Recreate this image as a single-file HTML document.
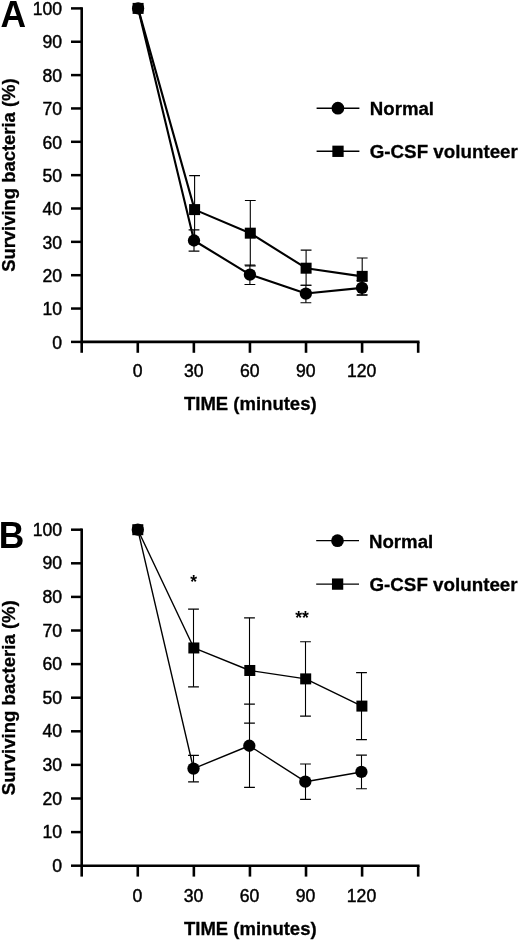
<!DOCTYPE html>
<html><head><meta charset="utf-8"><title>Figure</title>
<style>
html,body{margin:0;padding:0;background:#fff;}
svg{display:block;will-change:transform}
text{font-family:"Liberation Sans",Arial,sans-serif;fill:#000}
.tk{font-size:17.6px;stroke:#000;stroke-width:0.45px}
.lb{font-size:18.65px;font-weight:bold;stroke:#000;stroke-width:0.3px}
.yl{font-size:19.2px;font-weight:bold;stroke:#000;stroke-width:0.3px}
.pl{font-size:35.4px;font-weight:bold}
.st{font-size:17.5px;font-weight:bold}
</style></head><body>
<svg width="520" height="940" viewBox="0 0 520 940">
<rect width="520" height="940" fill="#fff"/>
<g>
<path d="M81.7 7.15V341.9H419.5" fill="none" stroke="#000" stroke-width="2.6"/>
<line x1="71" x2="81.7" y1="341.90" y2="341.90" stroke="#000" stroke-width="2.5"/>
<text x="62.1" y="348.60" text-anchor="end" class="tk">0</text>
<line x1="71" x2="81.7" y1="308.55" y2="308.55" stroke="#000" stroke-width="2.5"/>
<text x="62.1" y="315.25" text-anchor="end" class="tk">10</text>
<line x1="71" x2="81.7" y1="275.20" y2="275.20" stroke="#000" stroke-width="2.5"/>
<text x="62.1" y="281.90" text-anchor="end" class="tk">20</text>
<line x1="71" x2="81.7" y1="241.85" y2="241.85" stroke="#000" stroke-width="2.5"/>
<text x="62.1" y="248.55" text-anchor="end" class="tk">30</text>
<line x1="71" x2="81.7" y1="208.50" y2="208.50" stroke="#000" stroke-width="2.5"/>
<text x="62.1" y="215.20" text-anchor="end" class="tk">40</text>
<line x1="71" x2="81.7" y1="175.15" y2="175.15" stroke="#000" stroke-width="2.5"/>
<text x="62.1" y="181.85" text-anchor="end" class="tk">50</text>
<line x1="71" x2="81.7" y1="141.80" y2="141.80" stroke="#000" stroke-width="2.5"/>
<text x="62.1" y="148.50" text-anchor="end" class="tk">60</text>
<line x1="71" x2="81.7" y1="108.45" y2="108.45" stroke="#000" stroke-width="2.5"/>
<text x="62.1" y="115.15" text-anchor="end" class="tk">70</text>
<line x1="71" x2="81.7" y1="75.10" y2="75.10" stroke="#000" stroke-width="2.5"/>
<text x="62.1" y="81.80" text-anchor="end" class="tk">80</text>
<line x1="71" x2="81.7" y1="41.75" y2="41.75" stroke="#000" stroke-width="2.5"/>
<text x="62.1" y="48.45" text-anchor="end" class="tk">90</text>
<line x1="71" x2="81.7" y1="8.40" y2="8.40" stroke="#000" stroke-width="2.5"/>
<text x="62.1" y="15.10" text-anchor="end" class="tk">100</text>
<line x1="81.70" x2="81.70" y1="341.9" y2="352.80" stroke="#000" stroke-width="2.6"/>
<line x1="137.78" x2="137.78" y1="341.9" y2="352.80" stroke="#000" stroke-width="2.6"/>
<line x1="193.86" x2="193.86" y1="341.9" y2="352.80" stroke="#000" stroke-width="2.6"/>
<line x1="249.94" x2="249.94" y1="341.9" y2="352.80" stroke="#000" stroke-width="2.6"/>
<line x1="306.02" x2="306.02" y1="341.9" y2="352.80" stroke="#000" stroke-width="2.6"/>
<line x1="362.10" x2="362.10" y1="341.9" y2="352.80" stroke="#000" stroke-width="2.6"/>
<line x1="418.18" x2="418.18" y1="341.9" y2="352.80" stroke="#000" stroke-width="2.6"/>
<text x="137.60" y="377.10" text-anchor="middle" class="tk">0</text>
<text x="193.80" y="377.10" text-anchor="middle" class="tk">30</text>
<text x="249.80" y="377.10" text-anchor="middle" class="tk">60</text>
<text x="305.80" y="377.10" text-anchor="middle" class="tk">90</text>
<text x="361.70" y="377.10" text-anchor="middle" class="tk">120</text>
<text x="250.3" y="410.25" text-anchor="middle" class="lb" style="font-size:18.5px">TIME (minutes)</text>
<text transform="translate(15.4 175.15) rotate(-90) scale(0.96 1)" text-anchor="middle" class="yl">Surviving bacteria (%)</text>
<text transform="translate(0.5 26.75) scale(1 1.05)" class="pl">A</text>
<path d="M194.60 175.58V243.62" fill="none" stroke="#000" stroke-width="1.1"/>
<path d="M189.20 175.58h10.8M189.20 243.62h10.8" fill="none" stroke="#000" stroke-width="1.15"/>
<path d="M250.30 200.50V265.86" fill="none" stroke="#000" stroke-width="1.1"/>
<path d="M244.90 200.50h10.8M244.90 265.86h10.8" fill="none" stroke="#000" stroke-width="1.15"/>
<path d="M306.10 250.19V285.20" fill="none" stroke="#000" stroke-width="1.1"/>
<path d="M300.70 250.19h10.8M300.70 285.20h10.8" fill="none" stroke="#000" stroke-width="1.15"/>
<path d="M362.20 258.02V294.71" fill="none" stroke="#000" stroke-width="1.1"/>
<path d="M356.80 258.02h10.8M356.80 294.71h10.8" fill="none" stroke="#000" stroke-width="1.15"/>
<path d="M194.00 229.91V251.12" fill="none" stroke="#000" stroke-width="1.1"/>
<path d="M188.60 229.91h10.8M188.60 251.12h10.8" fill="none" stroke="#000" stroke-width="1.15"/>
<path d="M249.90 265.03V284.54" fill="none" stroke="#000" stroke-width="1.1"/>
<path d="M244.50 265.03h10.8M244.50 284.54h10.8" fill="none" stroke="#000" stroke-width="1.15"/>
<path d="M305.90 285.20V302.71" fill="none" stroke="#000" stroke-width="1.1"/>
<path d="M300.50 285.20h10.8M300.50 302.71h10.8" fill="none" stroke="#000" stroke-width="1.15"/>
<path d="M362.00 280.54V295.21" fill="none" stroke="#000" stroke-width="1.1"/>
<path d="M356.60 280.54h10.8M356.60 295.21h10.8" fill="none" stroke="#000" stroke-width="1.15"/>
<polyline points="138.1,8.40 194.6,209.60 250.3,233.18 306.1,268.20 362.2,276.37" fill="none" stroke="#000" stroke-width="2.1" stroke-linejoin="round"/>
<polyline points="138.1,8.40 194.0,240.52 249.9,274.53 305.9,293.54 362.0,287.87" fill="none" stroke="#000" stroke-width="2.1" stroke-linejoin="round"/>
<rect x="132.60" y="2.90" width="11" height="11" fill="#000"/>
<rect x="189.10" y="204.10" width="11" height="11" fill="#000"/>
<rect x="244.80" y="227.68" width="11" height="11" fill="#000"/>
<rect x="300.60" y="262.70" width="11" height="11" fill="#000"/>
<rect x="356.70" y="270.87" width="11" height="11" fill="#000"/>
<circle cx="138.1" cy="8.40" r="6.15" fill="#000"/>
<circle cx="194.0" cy="240.52" r="6.15" fill="#000"/>
<circle cx="249.9" cy="274.53" r="6.15" fill="#000"/>
<circle cx="305.9" cy="293.54" r="6.15" fill="#000"/>
<circle cx="362.0" cy="287.87" r="6.15" fill="#000"/>
<line x1="316.60" x2="359.40" y1="108.2" y2="108.2" stroke="#000" stroke-width="1.5"/>
<circle cx="337.90" cy="108.2" r="6.35" fill="#000"/>
<text x="369.80" y="115.10" class="lb">Normal</text>
<line x1="316.60" x2="359.40" y1="151.3" y2="151.3" stroke="#000" stroke-width="1.5"/>
<rect x="332.35" y="145.65" width="11.3" height="11.3" fill="#000"/>
<text x="369.70" y="158.00" class="lb" style="font-size:18.8px">G-CSF volunteer</text>
</g>
<g>
<path d="M81.7 528.45V865.7H419.5" fill="none" stroke="#000" stroke-width="2.6"/>
<line x1="71" x2="81.7" y1="865.70" y2="865.70" stroke="#000" stroke-width="2.5"/>
<text x="62.1" y="871.80" text-anchor="end" class="tk">0</text>
<line x1="71" x2="81.7" y1="832.10" y2="832.10" stroke="#000" stroke-width="2.5"/>
<text x="62.1" y="838.20" text-anchor="end" class="tk">10</text>
<line x1="71" x2="81.7" y1="798.50" y2="798.50" stroke="#000" stroke-width="2.5"/>
<text x="62.1" y="804.60" text-anchor="end" class="tk">20</text>
<line x1="71" x2="81.7" y1="764.90" y2="764.90" stroke="#000" stroke-width="2.5"/>
<text x="62.1" y="771.00" text-anchor="end" class="tk">30</text>
<line x1="71" x2="81.7" y1="731.30" y2="731.30" stroke="#000" stroke-width="2.5"/>
<text x="62.1" y="737.40" text-anchor="end" class="tk">40</text>
<line x1="71" x2="81.7" y1="697.70" y2="697.70" stroke="#000" stroke-width="2.5"/>
<text x="62.1" y="703.80" text-anchor="end" class="tk">50</text>
<line x1="71" x2="81.7" y1="664.10" y2="664.10" stroke="#000" stroke-width="2.5"/>
<text x="62.1" y="670.20" text-anchor="end" class="tk">60</text>
<line x1="71" x2="81.7" y1="630.50" y2="630.50" stroke="#000" stroke-width="2.5"/>
<text x="62.1" y="636.60" text-anchor="end" class="tk">70</text>
<line x1="71" x2="81.7" y1="596.90" y2="596.90" stroke="#000" stroke-width="2.5"/>
<text x="62.1" y="603.00" text-anchor="end" class="tk">80</text>
<line x1="71" x2="81.7" y1="563.30" y2="563.30" stroke="#000" stroke-width="2.5"/>
<text x="62.1" y="569.40" text-anchor="end" class="tk">90</text>
<line x1="71" x2="81.7" y1="529.70" y2="529.70" stroke="#000" stroke-width="2.5"/>
<text x="62.1" y="535.80" text-anchor="end" class="tk">100</text>
<line x1="81.70" x2="81.70" y1="865.7" y2="876.60" stroke="#000" stroke-width="2.6"/>
<line x1="137.78" x2="137.78" y1="865.7" y2="876.60" stroke="#000" stroke-width="2.6"/>
<line x1="193.86" x2="193.86" y1="865.7" y2="876.60" stroke="#000" stroke-width="2.6"/>
<line x1="249.94" x2="249.94" y1="865.7" y2="876.60" stroke="#000" stroke-width="2.6"/>
<line x1="306.02" x2="306.02" y1="865.7" y2="876.60" stroke="#000" stroke-width="2.6"/>
<line x1="362.10" x2="362.10" y1="865.7" y2="876.60" stroke="#000" stroke-width="2.6"/>
<line x1="418.18" x2="418.18" y1="865.7" y2="876.60" stroke="#000" stroke-width="2.6"/>
<text x="137.40" y="902.20" text-anchor="middle" class="tk">0</text>
<text x="193.60" y="902.20" text-anchor="middle" class="tk">30</text>
<text x="249.60" y="902.20" text-anchor="middle" class="tk">60</text>
<text x="305.60" y="902.20" text-anchor="middle" class="tk">90</text>
<text x="361.50" y="902.20" text-anchor="middle" class="tk">120</text>
<text x="250.3" y="935.35" text-anchor="middle" class="lb" style="font-size:18.5px">TIME (minutes)</text>
<text transform="translate(14.9 697.7) rotate(-90) scale(0.968 1)" text-anchor="middle" class="yl">Surviving bacteria (%)</text>
<text transform="translate(-1.3 547.65) scale(1 1.05)" class="pl">B</text>
<path d="M193.50 609.13V686.81" fill="none" stroke="#000" stroke-width="1.1"/>
<path d="M188.10 609.13h10.8M188.10 686.81h10.8" fill="none" stroke="#000" stroke-width="1.15"/>
<path d="M249.50 617.83V723.14" fill="none" stroke="#000" stroke-width="1.1"/>
<path d="M244.10 617.83h10.8M244.10 723.14h10.8" fill="none" stroke="#000" stroke-width="1.15"/>
<path d="M305.50 641.72V716.05" fill="none" stroke="#000" stroke-width="1.1"/>
<path d="M300.10 641.72h10.8M300.10 716.05h10.8" fill="none" stroke="#000" stroke-width="1.15"/>
<path d="M361.50 672.57V739.63" fill="none" stroke="#000" stroke-width="1.1"/>
<path d="M356.10 672.57h10.8M356.10 739.63h10.8" fill="none" stroke="#000" stroke-width="1.15"/>
<path d="M193.50 755.36V781.83" fill="none" stroke="#000" stroke-width="1.1"/>
<path d="M188.10 755.36h10.8M188.10 781.83h10.8" fill="none" stroke="#000" stroke-width="1.15"/>
<path d="M249.50 704.08V787.41" fill="none" stroke="#000" stroke-width="1.1"/>
<path d="M244.10 704.08h10.8M244.10 787.41h10.8" fill="none" stroke="#000" stroke-width="1.15"/>
<path d="M305.50 763.99V799.41" fill="none" stroke="#000" stroke-width="1.1"/>
<path d="M300.10 763.99h10.8M300.10 799.41h10.8" fill="none" stroke="#000" stroke-width="1.15"/>
<path d="M361.50 755.16V788.76" fill="none" stroke="#000" stroke-width="1.1"/>
<path d="M356.10 755.16h10.8M356.10 788.76h10.8" fill="none" stroke="#000" stroke-width="1.15"/>
<polyline points="137.8,529.70 193.85,647.97 249.8,670.48 305.7,678.88 361.9,706.10" fill="none" stroke="#000" stroke-width="1.4" stroke-linejoin="round"/>
<polyline points="137.8,529.70 193.5,768.60 249.3,745.75 305.3,781.70 361.4,771.96" fill="none" stroke="#000" stroke-width="1.4" stroke-linejoin="round"/>
<rect x="132.30" y="524.20" width="11" height="11" fill="#000"/>
<rect x="188.35" y="642.47" width="11" height="11" fill="#000"/>
<rect x="244.30" y="664.98" width="11" height="11" fill="#000"/>
<rect x="300.20" y="673.38" width="11" height="11" fill="#000"/>
<rect x="356.40" y="700.60" width="11" height="11" fill="#000"/>
<circle cx="137.8" cy="529.70" r="6.15" fill="#000"/>
<circle cx="193.5" cy="768.60" r="6.15" fill="#000"/>
<circle cx="249.3" cy="745.75" r="6.15" fill="#000"/>
<circle cx="305.3" cy="781.70" r="6.15" fill="#000"/>
<circle cx="361.4" cy="771.96" r="6.15" fill="#000"/>
<text x="193.6" y="588.0" text-anchor="middle" class="st">*</text>
<text x="302.1" y="624.4" text-anchor="middle" class="st">**</text>
<line x1="316.20" x2="359.00" y1="540.7" y2="540.7" stroke="#000" stroke-width="1.25"/>
<circle cx="337.50" cy="540.7" r="6.35" fill="#000"/>
<text x="369.00" y="547.80" class="lb">Normal</text>
<line x1="316.20" x2="359.00" y1="584.1" y2="584.1" stroke="#000" stroke-width="1.25"/>
<rect x="331.95" y="578.45" width="11.3" height="11.3" fill="#000"/>
<text x="369.45" y="590.60" class="lb" style="font-size:18.8px">G-CSF volunteer</text>
</g>
</svg>
</body></html>
